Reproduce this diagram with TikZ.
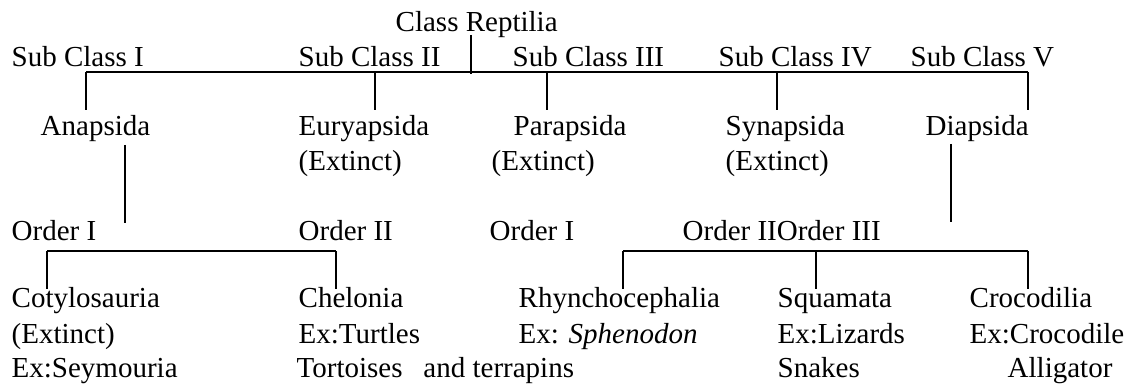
\documentclass[tikz,border=0pt]{standalone}
\usepackage{fontspec}
\setmainfont{Liberation Serif}
\usepackage{tikz}
\tikzset{lbl/.style={anchor=base west,inner sep=0pt}}

\begin{document}
\begin{tikzpicture}[x=1pt,y=-1pt,line width=1.4pt,font=\fontsize{29}{35}\selectfont]
\useasboundingbox (0,0) rectangle (1130,385);
\node[lbl] (reptilia) at (395,32) {Class Reptilia};
\node[lbl] (sub1) at (11,67) {Sub Class I};
\node[lbl] (sub2) at (298,67) {Sub Class II};
\node[lbl] (sub3) at (512,67) {Sub Class III};
\node[lbl] (sub4) at (718,67) {Sub Class IV};
\node[lbl] (sub5) at (910,67) {Sub Class V};
\coordinate (rtop) at (471,35); \coordinate (rbot) at (471,74);
\draw (rtop) -- (rbot);
\coordinate (barL) at (86,72); \coordinate (barR) at (1028,72);
\draw (barL) -- (barR);
\foreach \x in {86,375,547,777,1028}
  {\coordinate (up\x) at (\x,72); \coordinate (dn\x) at (\x,110); \draw (up\x) -- (dn\x);}
\node[lbl] (ana) at (40,136) {Anapsida};
\node[lbl] (eury) at (298,136) {Euryapsida};
\node[lbl] (euryx) at (298,171) {(Extinct)};
\node[lbl] (para) at (513,136) {Parapsida};
\node[lbl] (parax) at (491,171) {(Extinct)};
\node[lbl] (syn) at (725,136) {Synapsida};
\node[lbl] (synx) at (725,171) {(Extinct)};
\node[lbl] (dia) at (925,136) {Diapsida};
\coordinate (atop) at (125,145); \coordinate (abot) at (125,223);
\draw (atop) -- (abot);
\coordinate (dtop) at (951,144); \coordinate (dbot) at (951,222);
\draw (dtop) -- (dbot);
\node[lbl] (ord1) at (11,240) {Order I};
\node[lbl] (ord2) at (298,240) {Order II};
\node[lbl] (ord3) at (489,240) {Order I};
\node[lbl] (ord4) at (682,240) {Order IIOrder III};
\coordinate (lbarL) at (47,251); \coordinate (lbarR) at (336,251);
\draw (lbarL) -- (lbarR);
\coordinate (rbarL) at (623,251); \coordinate (rbarR) at (1028,251);
\draw (rbarL) -- (rbarR);
\foreach \x in {47,336,623,816,1028}
  {\coordinate (lo\x) at (\x,251); \coordinate (ft\x) at (\x,289); \draw (lo\x) -- (ft\x);}
\node[lbl] (coty) at (11,307) {Cotylosauria};
\node[lbl] (cotyx) at (11,343) {(Extinct)};
\node[lbl] (cotyex) at (11,377) {Ex:Seymouria};
\node[lbl] (chel) at (298,307) {Chelonia};
\node[lbl] (chelex) at (298,343) {Ex:Turtles};
\node[lbl] (chelex2) at (296,377) {Tortoises\hspace{0.72em}and terrapins};
\node[lbl] (rhyn) at (518,307) {Rhynchocephalia};
\node[lbl] (rhynex) at (518,343) {Ex: \textit{Sphenodon}};
\node[lbl] (squa) at (777,307) {Squamata};
\node[lbl] (squaex) at (777,343) {Ex:Lizards};
\node[lbl] (squaex2) at (777,377) {Snakes};
\node[lbl] (croc) at (969,307) {Crocodilia};
\node[lbl] (crocex) at (969,343) {Ex:Crocodile};
\node[lbl] (crocex2) at (1007,377) {Alligator};
\end{tikzpicture}
\end{document}
